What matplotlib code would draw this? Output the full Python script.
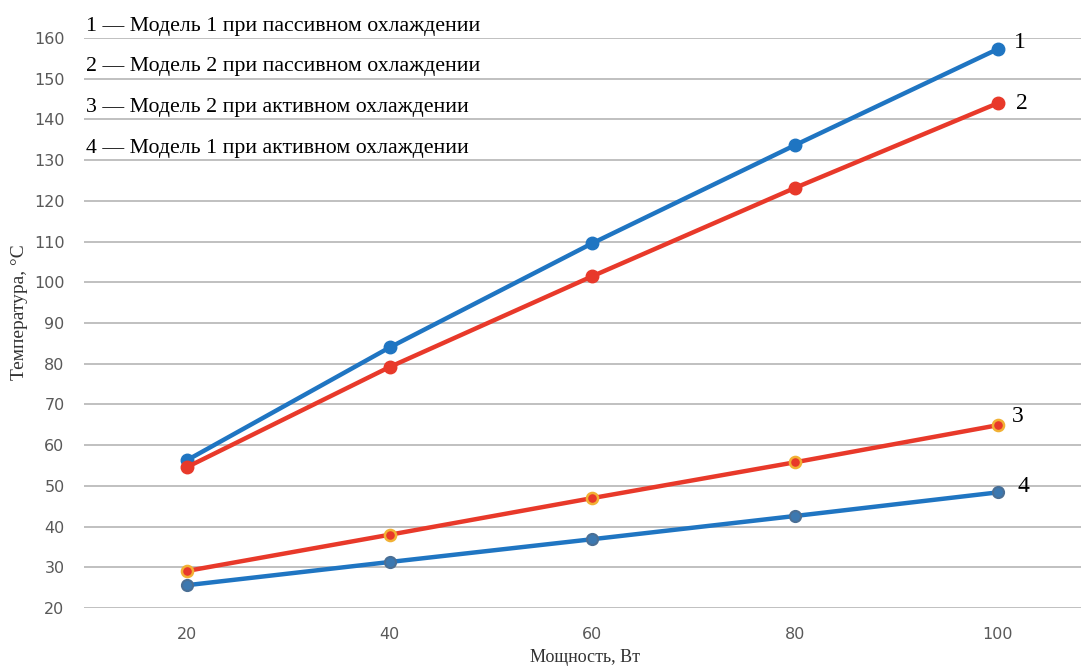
import matplotlib
matplotlib.use("Agg")
import matplotlib.pyplot as plt

power = [20, 40, 60, 80, 100]
model1_passive = [56.3, 84.0, 109.6, 133.7, 157.3]
model2_passive = [54.6, 79.2, 101.5, 123.2, 144.0]
model2_active = [29.1, 38.0, 47.0, 55.8, 64.9]
model1_active = [25.6, 31.3, 36.9, 42.6, 48.4]
yticks = list(range(20, 161, 10))
legend_lines = [
    "1 — Модель 1 при пассивном охлаждении",
    "2 — Модель 2 при пассивном охлаждении",
    "3 — Модель 2 при активном охлаждении",
    "4 — Модель 1 при активном охлаждении",
]
end_labels = ["1", "2", "3", "4"]

W, H = 1081, 671
fig = plt.figure(figsize=(W / 100, H / 100), dpi=100)
left, right, top, bottom = 84, 1081, 38, 608
ax = fig.add_axes([left / W, 1 - bottom / H, (right - left) / W, (bottom - top) / H])

blue = "#1f75c2"
red = "#e8392a"

ax.plot(power, model1_passive, color=blue, lw=3.2, marker="o", ms=9, mfc=blue, mec=blue, zorder=4, clip_on=False)
ax.plot(power, model2_passive, color=red, lw=3.2, marker="o", ms=9, mfc=red, mec=red, zorder=4, clip_on=False)
ax.plot(power, model2_active, color=red, lw=3.2, marker="o", ms=8, mfc=red, mec="#f2b134", mew=1.8, zorder=4, clip_on=False)
ax.plot(power, model1_active, color=blue, lw=3.2, marker="o", ms=8, mfc="#3c78b0", mec="#4a6f95", mew=1.5, zorder=4, clip_on=False)

ax.set_xlim(9.84, 108.2)
ax.set_ylim(20, 160)
ax.set_yticks(yticks)
ax.set_xticks(power)
ax.yaxis.grid(True, color="#c0c0c0", lw=1.4)
ax.set_axisbelow(True)
for s in ax.spines.values():
    s.set_visible(False)
ax.tick_params(axis="both", length=0, colors="#595959", labelsize=11.5)
ax.tick_params(axis="y", pad=14)
ax.tick_params(axis="x", pad=14)

serif = ["Liberation Serif", "DejaVu Serif"]
ax.set_ylabel("Температура, °С", fontfamily=serif, fontsize=14, color="#333333")
ax.set_xlabel("Мощность, Вт", fontfamily=serif, fontsize=13, color="#333333")
ax.yaxis.set_label_coords((20 - left) / (right - left), (bottom - 312) / (bottom - top))
ax.xaxis.set_label_coords(0.5 + (585 - (left + right) / 2) / (right - left), (bottom - 658) / (bottom - top))
ax.xaxis.label.set_va("center")
ax.yaxis.label.set_va("center")

for i, txt in enumerate(legend_lines):
    ax.text(10.05, 160 - 10 * i + 0.6, txt, fontfamily=serif, fontsize=15.7, color="black",
            ha="left", va="bottom", zorder=5)

end_x = [102.2, 102.4, 102.0, 102.5]
end_y = [159.0, 144.0, 67.1, 49.9]
for lab, x, y in zip(end_labels, end_x, end_y):
    ax.text(x, y, lab, fontfamily=serif, fontsize=17, color="black", ha="center", va="center")

fig.savefig("out.png", dpi=100)
